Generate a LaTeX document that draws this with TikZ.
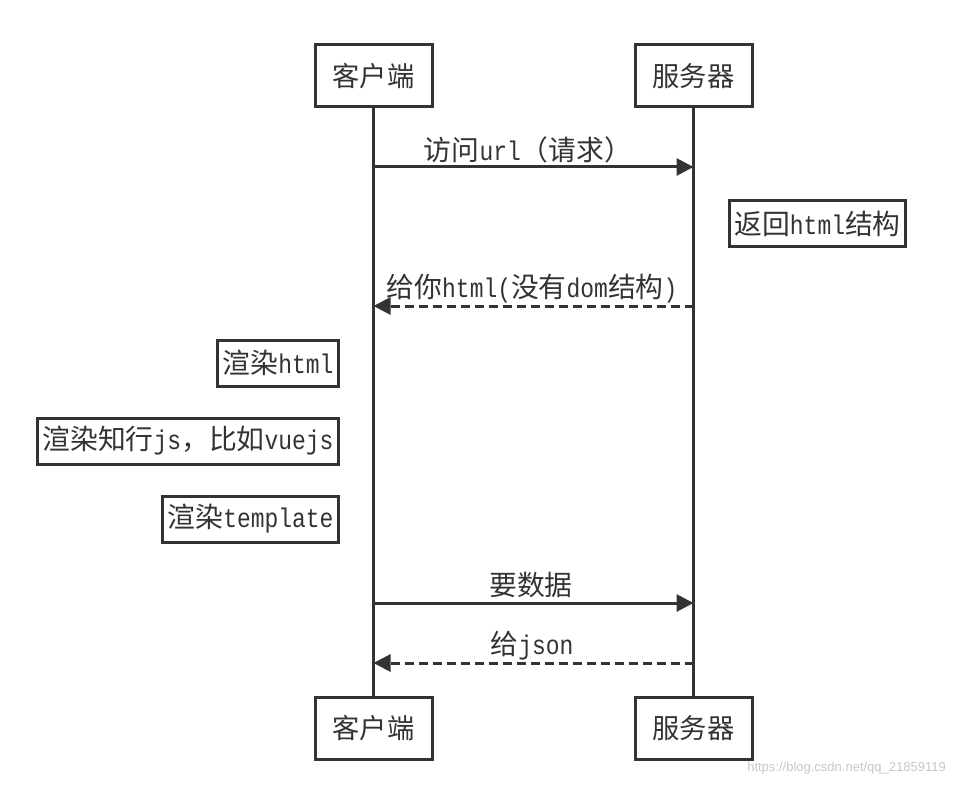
\documentclass[tikz,border=0pt]{standalone}
\usepackage{fontspec}
\setmainfont[FakeStretch=0.85]{Liberation Mono}
\newfontfamily\cjk[Scale=1.03]{Noto Sans CJK SC}
\newfontfamily\wmfont{Liberation Sans}
\usetikzlibrary{arrows.meta}
\definecolor{ink}{HTML}{333333}
\tikzset{
  actor/.style={draw=ink, line width=3pt, minimum width=117pt, minimum height=62pt, inner sep=0pt, font=\fontsize{26.5}{30}\selectfont\cjk, text=ink},
  note/.style={draw=ink, line width=3pt, minimum height=46pt, inner xsep=5pt, inner ysep=0pt, font=\fontsize{27}{30}\selectfont, text=ink},
  life/.style={draw=ink, line width=3pt},
  msg/.style={draw=ink, line width=3pt, -{Triangle[length=17pt,width=17pt]}},
  reply/.style={msg, dash pattern=on 9pt off 5pt},
  lbl/.style={font=\fontsize{27}{30}\selectfont, text=ink, inner sep=0pt}
}
\begin{document}
\begin{tikzpicture}[x=1pt,y=-1pt]
\useasboundingbox (0,0) rectangle (955,786);
% actors
\node[actor] (ct) at (373.5,76) {客户端};
\node[actor] (st) at (693.5,76) {服务器};
\node[actor] (cb) at (373.5,728.5) {客户端};
\node[actor] (sb) at (693.5,728.5) {服务器};
% lifelines
\draw[life] (ct.south) -- (cb.north);
\draw[life] (st.south) -- (sb.north);
% message points
\coordinate (c1) at (373.5,167); \coordinate (s1) at (693.5,167);
\coordinate (c2) at (373.5,306); \coordinate (s2) at (693.5,306);
\coordinate (c3) at (373.5,603); \coordinate (s3) at (693.5,603);
\coordinate (c4) at (373.5,663); \coordinate (s4) at (693.5,663);
\draw[msg] (c1) -- (s1);
\draw[reply] (s2) -- (c2);
\draw[msg] (c3) -- (s3);
\draw[reply] (s4) -- (c4);
% labels
\node[lbl] (l1) at (528,150) {{\cjk 访问}url{\cjk （请求）}};
\node[lbl] (l2) at (532,289) {{\cjk 给你}html({\cjk 没有}dom{\cjk 结构})};
\node[lbl] (l3) at (531,585) {{\cjk 要数据}};
\node[lbl] (l4) at (532,646) {{\cjk 给}json};
% notes
\node[note] (n1) at (817.5,223.5) {{\cjk 返回}html{\cjk 结构}};
\node[note, anchor=east] (n2) at (340,363) {{\cjk 渲染}html};
\node[note, anchor=east] (n3) at (340,441) {{\cjk 渲染知行}js{\cjk ，比如}vuejs};
\node[note, anchor=east] (n4) at (340,519) {{\cjk 渲染}template};
% watermark
\node[font=\fontsize{13}{15}\selectfont\wmfont, text=black!22, anchor=east, inner sep=0pt] (wm) at (946,768) {https://blog.csdn.net/qq\_21859119};
\end{tikzpicture}
\end{document}
